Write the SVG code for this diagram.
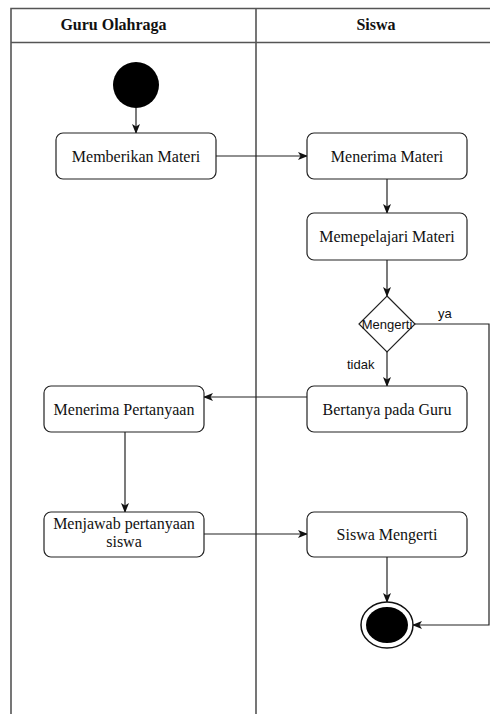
<svg xmlns="http://www.w3.org/2000/svg" width="490" height="714" viewBox="0 0 490 714">
<style>
.lane{stroke:#555;stroke-width:1.6;fill:none}
.box{fill:#fff;stroke:#222;stroke-width:1.2}
.t{font-family:"Liberation Serif","Times New Roman",serif;font-size:16px;fill:#111;text-anchor:middle}
.h{font-family:"Liberation Serif","Times New Roman",serif;font-size:16px;font-weight:bold;fill:#111;text-anchor:middle}
.s{font-family:"Liberation Sans",Arial,sans-serif;font-size:13px;fill:#111}
.c{stroke:#222;stroke-width:1.2;fill:none}
</style>
<defs>
<marker id="arr" viewBox="0 0 10 8" refX="9" refY="4" markerWidth="10" markerHeight="8" markerUnits="userSpaceOnUse" orient="auto">
<path d="M0,0 L10,4 L0,8 L2.5,4 Z" fill="#111"/>
</marker>
</defs>
<rect width="490" height="714" fill="#fff"/>
<g id="swimlanes">
<path class="lane" d="M11,714 V8.5 H490 M11,42.5 H490 M256,8.5 V714"/>
<text class="h" x="113.5" y="30">Guru Olahraga</text>
<text class="h" x="376" y="30">Siswa</text>
</g>
<g id="connectors">
<path class="c" d="M136,108 V133" marker-end="url(#arr)"/>
<path class="c" d="M216,156 H307" marker-end="url(#arr)"/>
<path class="c" d="M387,179 V213" marker-end="url(#arr)"/>
<path class="c" d="M387,260 V296" marker-end="url(#arr)"/>
<path class="c" d="M387,352 V386" marker-end="url(#arr)"/>
<text class="s" x="347" y="369">tidak</text>
<path class="c" d="M415,324 H489 V625 H413" marker-end="url(#arr)"/>
<text class="s" x="438" y="318">ya</text>
<path class="c" d="M307,397 H204" marker-end="url(#arr)"/>
<path class="c" d="M125,432 V512" marker-end="url(#arr)"/>
<path class="c" d="M204,534 H307" marker-end="url(#arr)"/>
<path class="c" d="M387,557 V602" marker-end="url(#arr)"/>
</g>
<g id="start"><circle cx="136" cy="85" r="23" fill="#000"/></g>
<g id="memberikan-materi"><rect class="box" x="56" y="133" width="160" height="46" rx="7"/><text class="t" x="136" y="162">Memberikan Materi</text></g>
<g id="menerima-materi"><rect class="box" x="307" y="133" width="160" height="46" rx="7"/><text class="t" x="387" y="162">Menerima Materi</text></g>
<g id="memepelajari-materi"><rect class="box" x="307" y="213" width="160" height="47" rx="7"/><text class="t" x="387" y="242">Memepelajari Materi</text></g>
<g id="mengerti"><path d="M387,296 L415,324 L387,352 L359,324 Z" fill="#fff" stroke="#222" stroke-width="1.2"/><text class="s" x="387" y="329" text-anchor="middle">Mengerti</text></g>
<g id="bertanya-pada-guru"><rect class="box" x="307" y="386" width="160" height="46" rx="7"/><text class="t" x="387" y="415">Bertanya pada Guru</text></g>
<g id="menerima-pertanyaan"><rect class="box" x="44" y="386" width="160" height="46" rx="7"/><text class="t" x="124" y="415">Menerima Pertanyaan</text></g>
<g id="menjawab-pertanyaan"><rect class="box" x="44" y="512" width="160" height="45" rx="7"/><text class="t" x="124" y="529">Menjawab pertanyaan</text><text class="t" x="124" y="547">siswa</text></g>
<g id="siswa-mengerti"><rect class="box" x="307" y="512" width="160" height="45" rx="7"/><text class="t" x="387" y="540">Siswa Mengerti</text></g>
<g id="end"><ellipse cx="387" cy="625" rx="26" ry="23" fill="#fff" stroke="#111" stroke-width="1.5"/><ellipse cx="387" cy="625" rx="21" ry="18" fill="#000"/></g>
</svg>
